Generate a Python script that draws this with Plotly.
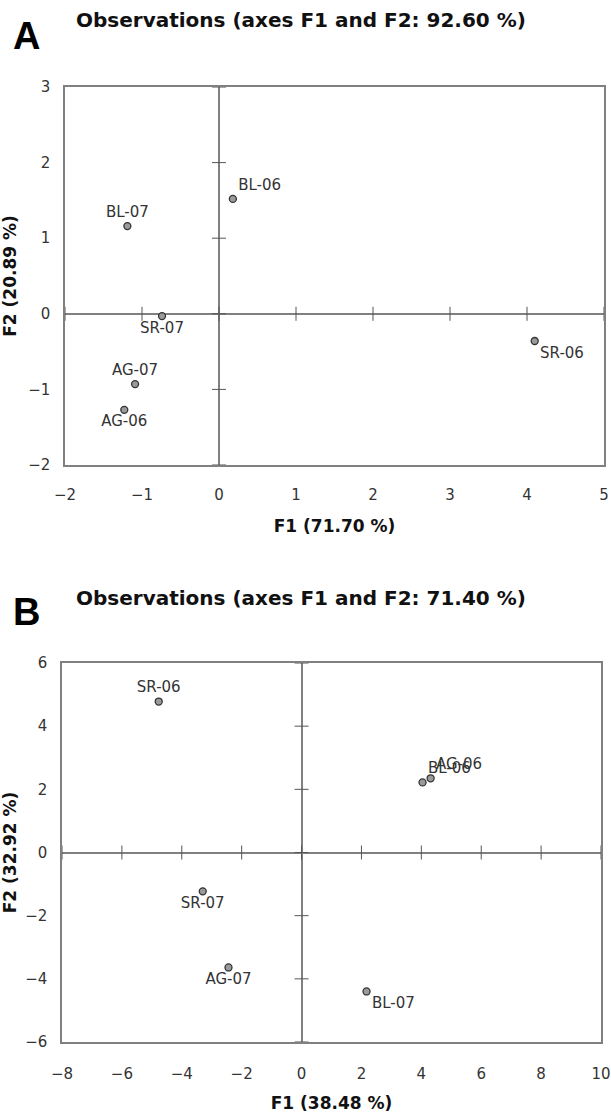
import plotly.graph_objects as go

# Panel A data
a_labels = ["BL-06", "BL-07", "SR-07", "AG-07", "AG-06", "SR-06"]
a_f1 = [0.18, -1.19, -0.74, -1.09, -1.23, 4.10]
a_f2 = [1.52, 1.16, -0.03, -0.93, -1.27, -0.36]
a_pos = ["top right", "top center", "bottom center", "top center", "bottom center", "bottom right"]
a_xticks = [-2, -1, 0, 1, 2, 3, 4, 5]
a_yticks = [-2, -1, 0, 1, 2, 3]

# Panel B data
b_labels = ["SR-06", "SR-07", "AG-07", "BL-07", "BL-06", "AG-06"]
b_f1 = [-4.77, -3.30, -2.44, 2.17, 4.04, 4.31]
b_f2 = [4.78, -1.23, -3.64, -4.40, 2.22, 2.35]
b_pos = ["top center", "bottom center", "bottom center", "bottom right", "top right", "top right"]
b_xticks = [-8, -6, -4, -2, 0, 2, 4, 6, 8, 10]
b_yticks = [-6, -4, -2, 0, 2, 4, 6]

W, H = 611, 1113
FW, FH = W, H
FONT = "DejaVu Sans"
LINE = "#808080"
TICKC = "#555555"


def px(x):
    return x / FW


def py(y):
    return 1 - y / FH


fig = go.Figure()


def add_panel(xa, ya, labels, xs, ys, pos, xt, yt):
    xref = "x" if xa == 1 else f"x{xa}"
    yref = "y" if ya == 1 else f"y{ya}"
    fig.add_trace(go.Scatter(x=xt, y=[0] * len(xt), mode="markers", xaxis=xref, yaxis=yref,
                             marker=dict(symbol="line-ns-open", size=10, color=TICKC,
                                         line=dict(color=TICKC, width=1)),
                             hoverinfo="skip", showlegend=False, cliponaxis=False))
    fig.add_trace(go.Scatter(x=[0] * len(yt), y=yt, mode="markers", xaxis=xref, yaxis=yref,
                             marker=dict(symbol="line-ew-open", size=10, color=TICKC,
                                         line=dict(color=TICKC, width=1)),
                             hoverinfo="skip", showlegend=False, cliponaxis=False))
    fig.add_trace(go.Scatter(x=xs, y=ys, text=labels, mode="markers+text", textposition=pos,
                             xaxis=xref, yaxis=yref,
                             marker=dict(size=7, color="#9a9a9a", line=dict(color="#333", width=1.3)),
                             textfont=dict(family=FONT, size=15, color="#333"),
                             showlegend=False, cliponaxis=False))


add_panel(1, 1, a_labels, a_f1, a_f2, a_pos, a_xticks, a_yticks)
add_panel(2, 2, b_labels, b_f1, b_f2, b_pos, b_xticks, b_yticks)


def axis(domain, rng, ticks, anchor, standoff):
    return dict(domain=domain, range=rng, tickvals=ticks, showgrid=False,
                zeroline=True, zerolinecolor=LINE, zerolinewidth=2,
                showline=True, linecolor=LINE, linewidth=1.5, mirror=True,
                ticks="", tickfont=dict(family=FONT, size=15, color="#333"),
                anchor=anchor, fixedrange=True, automargin=False,
                ticklabelstandoff=standoff)


xa = axis([px(65), px(604)], [-2, 5], a_xticks, "y", 15)
ya = axis([py(465), py(87)], [-2, 3], a_yticks, "x", 10)
xb = axis([px(62), px(601)], [-8, 10], b_xticks, "y2", 17)
yb = axis([py(1042), py(663)], [-6, 6], b_yticks, "x2", 10)

ttl = dict(family=FONT, size=17, color="#111")
xa["title"] = dict(text="<b>F1 (71.70 %)</b>", font=ttl, standoff=17)
ya["title"] = dict(text="<b>F2 (20.89 %)</b>", font=ttl, standoff=13)
xb["title"] = dict(text="<b>F1 (38.48 %)</b>", font=ttl, standoff=15)
yb["title"] = dict(text="<b>F2 (32.92 %)</b>", font=ttl, standoff=13)

annotations = [
    dict(text="<b>A</b>", x=px(11), y=py(36), xref="paper", yref="paper", xanchor="left", yanchor="middle",
         showarrow=False, font=dict(family="Liberation Sans", size=38, color="#000")),
    dict(text="<b>Observations (axes F1 and F2: 92.60 %)</b>", x=px(301), y=py(20), xref="paper", yref="paper",
         xanchor="center", yanchor="middle", showarrow=False, font=dict(family=FONT, size=20, color="#111")),
    dict(text="<b>B</b>", x=px(11), y=py(612), xref="paper", yref="paper", xanchor="left", yanchor="middle",
         showarrow=False, font=dict(family="Liberation Sans", size=38, color="#000")),
    dict(text="<b>Observations (axes F1 and F2: 71.40 %)</b>", x=px(301), y=py(598), xref="paper", yref="paper",
         xanchor="center", yanchor="middle", showarrow=False, font=dict(family=FONT, size=20, color="#111")),
]

fig.update_layout(width=FW, height=FH, margin=dict(l=0, r=0, t=0, b=0, autoexpand=False),
                  paper_bgcolor="white", plot_bgcolor="white",
                  xaxis=xa, yaxis=ya, xaxis2=xb, yaxis2=yb,
                  annotations=annotations, showlegend=False)

fig.write_html("out.html", config={"displayModeBar": False},
               post_script="document.body.style.margin='0';document.body.style.overflow='hidden';")
